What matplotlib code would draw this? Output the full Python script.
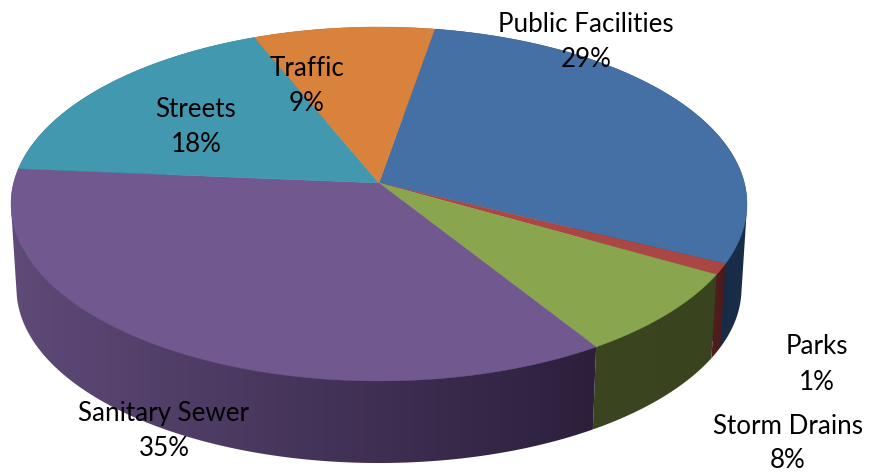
import numpy as np
import matplotlib
matplotlib.use('Agg')
import matplotlib.pyplot as plt
from matplotlib.colors import LinearSegmentedColormap
from matplotlib.patches import Polygon

categories = ['Public Facilities', 'Parks', 'Storm Drains', 'Sanitary Sewer', 'Streets', 'Traffic']
values = [29.5, 1.0, 7.8, 35.3, 17.5, 8.9]
labels_pct = ['29%', '1%', '8%', '35%', '18%', '9%']

top_colors = ['#4570a5', '#aa4643', '#89a54e', '#71588f', '#4198af', '#d8823c']
wall_left = ['#1d3552', '#541f1e', '#3b4520', '#5f4a78', '#1f5566', '#7a4a20']
wall_right = ['#182c47', '#4a1b1a', '#39431e', '#2c1f3c', '#1f5566', '#7a4a20']
name_pos = [(586, 24), (817, 347), (788, 426), (164, 413), (196, 109), (307, 68)]
line_gap = 35

start_angle = 9.8

# perspective of the tilted disc, in pixels
apex_x, apex_y = 379, 183
k = 0.1186


def project(theta, scale=1.0, drop=0.0):
    u = np.sin(theta)
    v = np.cos(theta)
    d = 1 + k * v
    return apex_x + scale * 365.4 * u / d, apex_y + drop - scale * 174.5 * v / d


def hull(points):
    # monotone chain, wall outline has to cover the sides of the disc
    pts = sorted(set(map(tuple, points)))

    def half(seq):
        out = []
        for p in seq:
            while len(out) > 1 and ((out[-1][0] - out[-2][0]) * (p[1] - out[-2][1])
                                    - (out[-1][1] - out[-2][1]) * (p[0] - out[-2][0])) <= 0:
                out.pop()
            out.append(p)
        return out[:-1]
    return half(pts) + half(pts[::-1])


plt.rcParams['font.family'] = ['Lato', 'DejaVu Sans']
fig = plt.figure(figsize=(8.69, 4.74), dpi=100)
ax = fig.add_axes([0, 0, 1, 1])

edges = start_angle + np.cumsum([0] + values) * 3.6

# side wall first, top face goes over it
for i in range(len(values)):
    th = np.radians(np.linspace(edges[i], edges[i + 1], 150))
    x0, y0 = project(th)
    x1, y1 = project(th, 0.985, 85)
    xs = np.r_[x0, x1]
    ys = np.r_[y0, y1]
    cmap = LinearSegmentedColormap.from_list('wall', [wall_left[i], wall_right[i]])
    im = ax.imshow(np.linspace(0, 1, 256)[None, :], cmap=cmap, aspect='auto', zorder=1,
                   extent=(xs.min(), xs.max(), ys.max(), ys.min()), interpolation='bilinear')
    clip = Polygon(hull(np.c_[xs, ys]), closed=True, transform=ax.transData)
    im.set_clip_path(clip)

for i in range(len(values)):
    th = np.radians(np.linspace(edges[i], edges[i + 1], 120))
    x, y = project(th)
    ax.fill(np.r_[apex_x, x], np.r_[apex_y, y], color=top_colors[i], lw=0.3, zorder=2)

for name, pct, (lx, ly) in zip(categories, labels_pct, name_pos):
    ax.text(lx, ly, name, ha='center', va='center', fontsize=18.7, color='black', zorder=3)
    ax.text(lx, ly + line_gap, pct, ha='center', va='center', fontsize=18.7, color='black', zorder=3)

ax.set_xlim(0, 869)
ax.set_ylim(474, 0)
ax.axis('off')

fig.savefig('out.png', dpi=100)
